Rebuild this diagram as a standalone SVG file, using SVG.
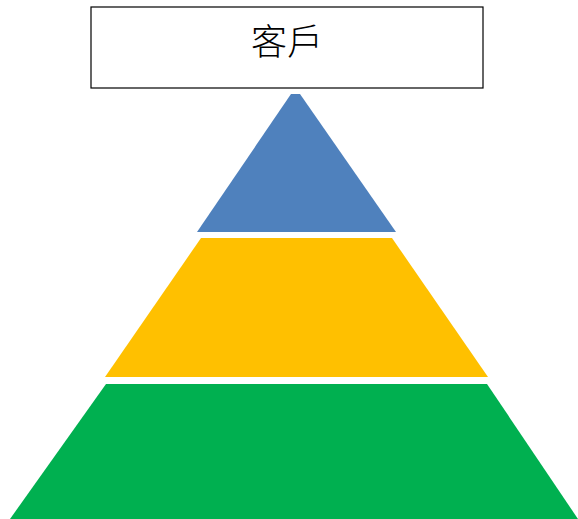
<svg xmlns="http://www.w3.org/2000/svg" width="578" height="519" viewBox="0 0 578 519">
<style>
.box{fill:#fff;stroke:#000;stroke-width:1.2}
.lbl{font-family:"Noto Sans CJK TC","Noto Sans CJK JP",sans-serif;font-weight:300;font-size:36px;fill:#000;text-anchor:middle}
</style>
<rect width="578" height="519" fill="#fff"/>
<g id="customer">
<rect class="box" x="91" y="7" width="392" height="81"/>
<text class="lbl" x="287" y="55">客戶</text>
</g>
<g id="top-tier">
<polygon points="291,94 300,94 396,232 197,232" fill="#4F81BD"/>
</g>
<g id="middle-tier">
<polygon points="201,238 392,238 488,377 105,377" fill="#FFC000"/>
</g>
<g id="bottom-tier">
<polygon points="106,384 487,384 578,519 10,519" fill="#00B050"/>
</g>
<g id="connectors"/>
</svg>
